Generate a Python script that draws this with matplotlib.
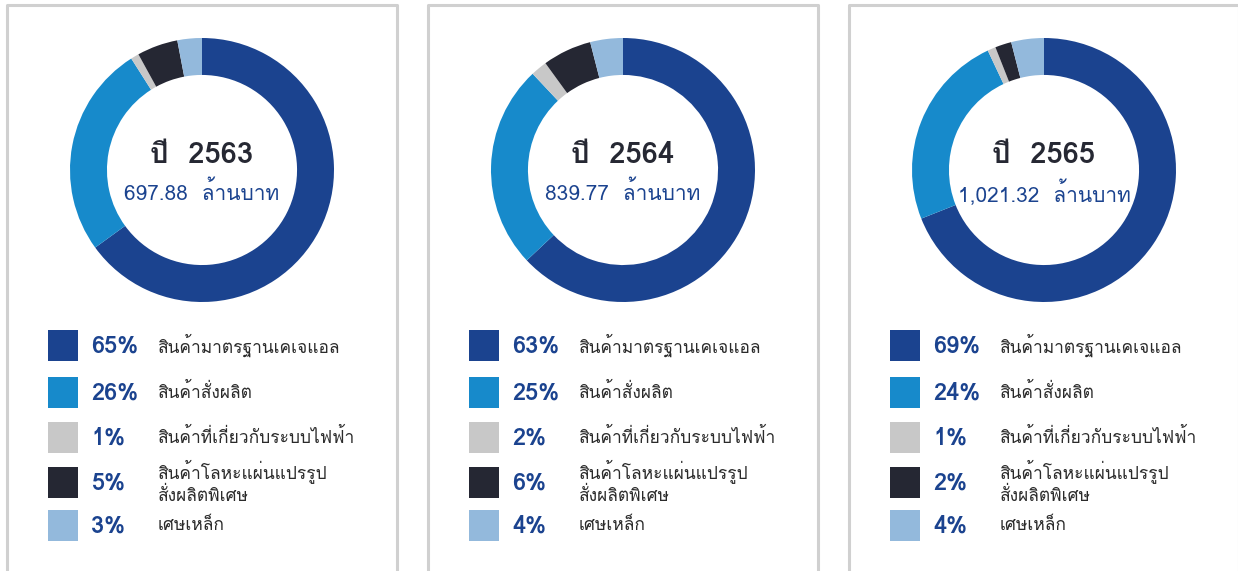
import matplotlib
matplotlib.use("Agg")
import matplotlib.pyplot as plt
from matplotlib import font_manager
from matplotlib.ft2font import FT2Font
from matplotlib.patches import Rectangle

years = ['2563', '2564', '2565']
totals = ['697.88', '839.77', '1,021.32']
categories = ['สินค้ามาตรฐานเคเจแอล', 'สินค้าสั่งผลิต', 'สินค้าที่เกี่ยวกับระบบไฟฟ้า',
              'สินค้าโลหะแผ่นแปรรูป\nสั่งผลิตพิเศษ', 'เศษเหล็ก']
shares_2563 = [65, 26, 1, 5, 3]
shares_2564 = [63, 25, 2, 6, 4]
shares_2565 = [69, 24, 1, 2, 4]
colors = ['#1b438f', '#178acb', '#c8c8c8', '#252733', '#93b9dc']


def thai_font():
    # pick an installed font that actually has Thai glyphs
    for f in font_manager.fontManager.ttflist:
        try:
            if 0x0E2A in FT2Font(f.fname).get_charmap():
                return f.name
        except Exception:
            pass
    return 'DejaVu Sans'


plt.rcParams['font.family'] = [thai_font(), 'DejaVu Sans']

W, H = 1238, 571
fig = plt.figure(figsize=(W / 100, H / 100), dpi=100)
bg = fig.add_axes([0, 0, 1, 1])
bg.set_xlim(0, W)
bg.set_ylim(H, 0)
bg.axis('off')

blue = '#1b438f'
row_y = [345.5, 392, 437.5, 482, 525.5]
for k, (year, total, shares) in enumerate(zip(years, totals, [shares_2563, shares_2564, shares_2565])):
    off = 421 * k
    # panel frame
    bg.plot([7 + off, 7 + off, 397 + off, 397 + off], [H + 5, 5, 5, H + 5], color='#d0d0d0', lw=2.2)

    # donut
    cx, cy, r = 202 + off, 170, 132
    ax = fig.add_axes([(cx - r) / W, (H - cy - r) / H, 2 * r / W, 2 * r / H])
    ax.pie(shares, colors=colors, startangle=90, counterclock=False, radius=1,
           wedgeprops=dict(width=0.28, linewidth=0))
    ax.set_xlim(-1, 1)
    ax.set_ylim(-1, 1)
    ax.set_aspect('equal')
    ax.text(0, 0.11, 'ปี  ' + year, ha='center', va='center', fontsize=21,
            fontweight='bold', color='#262833')
    ax.text(0, -0.17, total + '  ล้านบาท', ha='center', va='center', fontsize=15, color=blue)

    # legend
    for i, (cat, val, col) in enumerate(zip(categories, shares, colors)):
        y = row_y[i]
        bg.add_patch(Rectangle((48 + off, y - 15.5), 30, 31, color=col, lw=0))
        bg.text(91 + off, y + 1, f'{val}%', ha='left', va='center', fontsize=17,
                fontweight='bold', color=blue)
        bg.text(158 + off, y, cat, ha='left', va='center', fontsize=12.5,
                color='#2b2b2b', linespacing=1.3)

fig.savefig('out.png', dpi=100)
